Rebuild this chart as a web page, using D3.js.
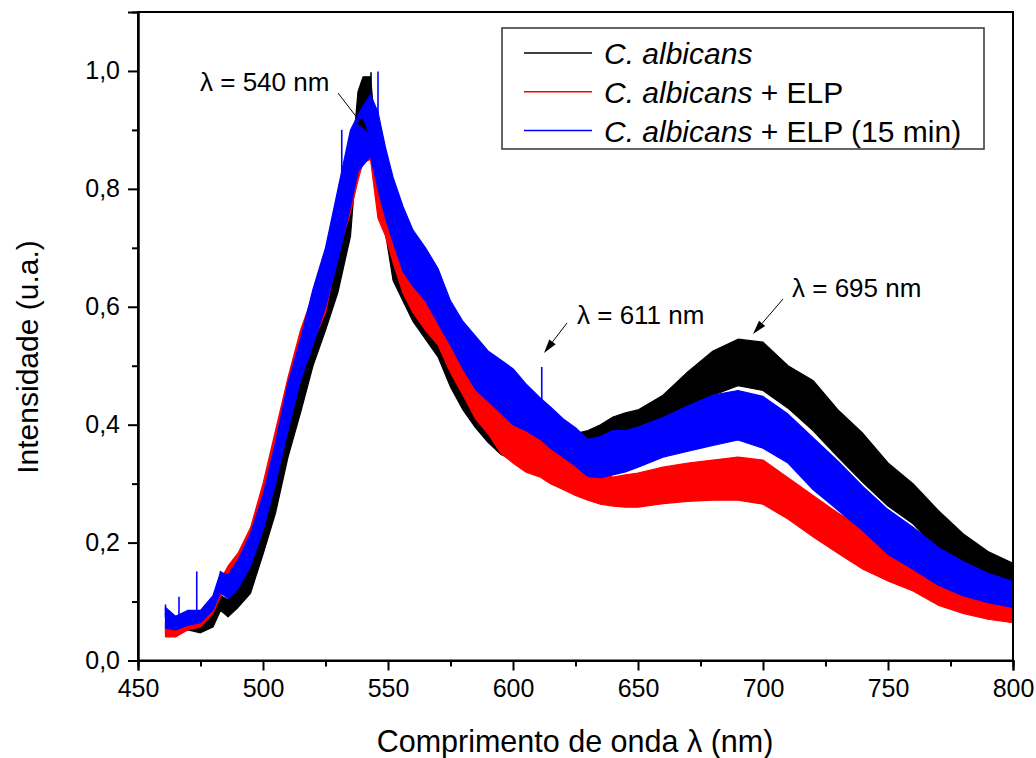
<!DOCTYPE html>
<html>
<head>
<meta charset="utf-8">
<script src="https://cdn.jsdelivr.net/npm/d3@7"></script>
<style>
	body { margin: 0; background: #fff; }
	text { font-family: "Liberation Sans", Arial, sans-serif; fill: #000; }
</style>
</head>
<body>
<script>

var wl = [461, 465, 470, 475, 480, 483, 486, 490, 495, 500,
	505, 510, 515, 520, 525, 530, 535, 538, 540, 543,
	546, 549, 552, 556, 560, 565, 570, 575, 580, 585,
	590, 595, 600, 605, 611, 615, 620, 625, 630, 635,
	640, 645, 650, 660, 670, 680, 690, 700, 710, 720,
	730, 740, 750, 760, 770, 780, 790, 800];

// C. albicans (upper / lower edge of the noise band)
var blackHi = [0.060, 0.060, 0.064, 0.064, 0.080, 0.110, 0.103, 0.130, 0.160, 0.230,
	0.310, 0.410, 0.500, 0.580, 0.650, 0.720, 0.820, 0.965, 0.990, 0.990,
	0.850, 0.770, 0.720, 0.668, 0.640, 0.615, 0.600, 0.544, 0.500, 0.475,
	0.455, 0.420, 0.410, 0.400, 0.390, 0.385, 0.385, 0.385, 0.390, 0.400,
	0.413, 0.420, 0.425, 0.450, 0.490, 0.525, 0.545, 0.540, 0.500, 0.475,
	0.425, 0.385, 0.335, 0.300, 0.255, 0.215, 0.185, 0.165];
var blackLo = [0.045, 0.045, 0.052, 0.047, 0.057, 0.085, 0.074, 0.090, 0.114, 0.180,
	0.250, 0.345, 0.420, 0.500, 0.560, 0.625, 0.720, 0.880, 0.900, 0.930,
	0.770, 0.725, 0.645, 0.610, 0.575, 0.545, 0.515, 0.464, 0.425, 0.395,
	0.370, 0.350, 0.340, 0.330, 0.320, 0.320, 0.320, 0.325, 0.330, 0.350,
	0.374, 0.380, 0.386, 0.405, 0.425, 0.450, 0.466, 0.458, 0.428, 0.390,
	0.345, 0.302, 0.262, 0.232, 0.187, 0.152, 0.127, 0.116];

// C. albicans + ELP
var redHi = [0.065, 0.060, 0.070, 0.080, 0.108, 0.137, 0.160, 0.182, 0.225, 0.300,
	0.390, 0.480, 0.560, 0.620, 0.680, 0.780, 0.830, 0.840, 0.870, 0.880,
	0.840, 0.800, 0.740, 0.690, 0.665, 0.640, 0.620, 0.555, 0.525, 0.490,
	0.470, 0.440, 0.420, 0.405, 0.396, 0.370, 0.355, 0.340, 0.328, 0.318,
	0.311, 0.315, 0.318, 0.328, 0.335, 0.340, 0.345, 0.340, 0.310, 0.280,
	0.250, 0.225, 0.200, 0.178, 0.150, 0.127, 0.118, 0.110];
var redLo = [0.040, 0.040, 0.052, 0.057, 0.080, 0.108, 0.125, 0.145, 0.170, 0.245,
	0.320, 0.400, 0.480, 0.540, 0.590, 0.690, 0.760, 0.815, 0.845, 0.850,
	0.750, 0.720, 0.675, 0.623, 0.590, 0.560, 0.535, 0.488, 0.450, 0.410,
	0.385, 0.352, 0.335, 0.320, 0.311, 0.300, 0.290, 0.280, 0.272, 0.265,
	0.262, 0.260, 0.260, 0.266, 0.270, 0.272, 0.272, 0.265, 0.240, 0.210,
	0.182, 0.155, 0.135, 0.118, 0.094, 0.080, 0.070, 0.064];

// C. albicans + ELP (15 min)
var blueHi = [0.090, 0.075, 0.085, 0.085, 0.110, 0.150, 0.145, 0.170, 0.215, 0.280,
	0.370, 0.470, 0.545, 0.630, 0.700, 0.800, 0.900, 0.925, 0.940, 0.960,
	0.930, 0.870, 0.820, 0.770, 0.730, 0.700, 0.665, 0.610, 0.575, 0.550,
	0.525, 0.510, 0.495, 0.470, 0.445, 0.430, 0.410, 0.395, 0.375, 0.380,
	0.390, 0.390, 0.396, 0.412, 0.432, 0.450, 0.458, 0.448, 0.418, 0.378,
	0.338, 0.295, 0.256, 0.226, 0.192, 0.168, 0.148, 0.134];
var blueLo = [0.055, 0.052, 0.060, 0.064, 0.086, 0.115, 0.105, 0.122, 0.160, 0.220,
	0.300, 0.390, 0.475, 0.535, 0.600, 0.680, 0.770, 0.830, 0.840, 0.855,
	0.800, 0.750, 0.710, 0.660, 0.635, 0.610, 0.572, 0.535, 0.495, 0.460,
	0.440, 0.420, 0.400, 0.390, 0.375, 0.360, 0.345, 0.330, 0.312, 0.310,
	0.315, 0.320, 0.328, 0.345, 0.355, 0.365, 0.374, 0.360, 0.335, 0.290,
	0.255, 0.220, 0.180, 0.155, 0.128, 0.110, 0.098, 0.090];

// single sharp spikes poking out of the bands [nm, value]
var blackSpikes = [[541, 0.99], [543.2, 0.998]];
var redSpikes = [[544.5, 0.89], [611.5, 0.408]];
var blueSpikes = [[461, 0.095], [466.4, 0.108], [473.5, 0.151], [483, 0.152], [531.5, 0.9], [546, 0.999], [611.5, 0.498]];

var seriesNames = ['C. albicans', 'C. albicans + ELP', 'C. albicans + ELP (15 min)'];
var seriesColors = ['#000000', '#ff0000', '#0000ff'];

var xTicks = [450, 500, 550, 600, 650, 700, 750, 800];
var xMinor = [475, 525, 575, 625, 675, 725, 775];
var yTicks = [0, 0.2, 0.4, 0.6, 0.8, 1.0];
var yMinor = [0.1, 0.3, 0.5, 0.7, 0.9];

// peak annotations: text position and arrow (tail -> head), in pixels
var notes = [
	{ label: 'λ = 540 nm', tx: 200, ty: 91, x1: 338, y1: 93, x2: 368, y2: 132 },
	{ label: 'λ = 611 nm', tx: 577, ty: 324, x1: 567, y1: 323, x2: 544, y2: 353 },
	{ label: 'λ = 695 nm', tx: 792, ty: 297, x1: 783, y1: 299, x2: 753, y2: 334 }
];

(function(){

	var width = 1036, height = 758;
	var left = 138, right = 1013, top = 12, bottom = 660.5;

	var svg = d3.select('body').append('svg')
		.attr('width', width)
		.attr('height', height);

	var x = d3.scaleLinear().domain([450, 800]).range([left, right]);
	var y = d3.scaleLinear().domain([0, 1.1]).range([bottom, top]);

	var plot = svg.append('g');

	// one filled band per spectrum, drawn black -> red -> blue like the original
	var bands = [[blackHi, blackLo, blackSpikes], [redHi, redLo, redSpikes], [blueHi, blueLo, blueSpikes]];

	bands.forEach(function(b, k){
		var pts = wl.map(function(w, i){ return { w: w, hi: b[0][i], lo: b[1][i] }; });
		var area = d3.area()
			.x(function(d){ return x(d.w); })
			.y0(function(d){ return y(d.lo); })
			.y1(function(d){ return y(d.hi); });

		plot.append('path')
			.attr('d', area(pts))
			.attr('fill', seriesColors[k])
			.attr('stroke', seriesColors[k])
			.attr('stroke-width', 1.2)
			.attr('stroke-linejoin', 'round');

		// spikes: vertical hairlines from inside the band up to the read value
		b[2].forEach(function(s){
			var i = d3.minIndex(wl, function(w){ return Math.abs(w - s[0]); });
			plot.append('line')
				.attr('x1', x(s[0])).attr('x2', x(s[0]))
				.attr('y1', y((b[0][i] + b[1][i]) / 2)).attr('y2', y(s[1]))
				.attr('stroke', seriesColors[k])
				.attr('stroke-width', 1.6);
		});
	});

	// frame
	svg.append('rect')
		.attr('x', left).attr('y', top)
		.attr('width', right - left).attr('height', bottom - top)
		.attr('fill', 'none')
		.attr('stroke', '#000')
		.attr('stroke-width', 2);

	// axes with outward ticks
	var fmt = function(v){ return d3.format('.1f')(v).replace('.', ','); };

	svg.append('g')
		.attr('transform', 'translate(0,' + bottom + ')')
		.call(d3.axisBottom(x).tickValues(xTicks).tickSize(10).tickPadding(9).tickFormat(d3.format('d')));
	svg.append('g')
		.attr('transform', 'translate(0,' + bottom + ')')
		.call(d3.axisBottom(x).tickValues(xMinor).tickSize(6).tickFormat(''));

	svg.append('g')
		.attr('transform', 'translate(' + left + ',0)')
		.call(d3.axisLeft(y).tickValues(yTicks).tickSize(10).tickPadding(8).tickFormat(fmt));
	svg.append('g')
		.attr('transform', 'translate(' + left + ',0)')
		.call(d3.axisLeft(y).tickValues(yMinor).tickSize(6).tickFormat(''));

	svg.selectAll('.domain').attr('stroke', '#000').attr('stroke-width', 2);
	svg.selectAll('.tick line').attr('stroke', '#000').attr('stroke-width', 2);
	svg.selectAll('.tick text')
		.style('font-family', '"Liberation Sans", Arial, sans-serif')
		.style('font-size', '25px')
		.attr('fill', '#000');

	// axis titles
	svg.append('text')
		.attr('x', 575)
		.attr('y', 752)
		.attr('text-anchor', 'middle')
		.style('font-size', '30.5px')
		.text('Comprimento de onda λ (nm)');

	svg.append('text')
		.attr('transform', 'translate(38,357) rotate(-90)')
		.attr('text-anchor', 'middle')
		.style('font-size', '30px')
		.text('Intensidade (u.a.)');

	// annotations with small filled arrow heads
	notes.forEach(function(n){
		svg.append('text')
			.attr('x', n.tx).attr('y', n.ty)
			.style('font-size', '26px')
			.text(n.label);

		var ang = Math.atan2(n.y2 - n.y1, n.x2 - n.x1);
		var len = 14, wid = 4;
		var bx = n.x2 - len * Math.cos(ang), by = n.y2 - len * Math.sin(ang);
		svg.append('line')
			.attr('x1', n.x1).attr('y1', n.y1)
			.attr('x2', bx).attr('y2', by)
			.attr('stroke', '#000').attr('stroke-width', 1);
		svg.append('path')
			.attr('d', 'M' + n.x2 + ',' + n.y2
				+ ' L' + (bx + wid * Math.sin(ang)) + ',' + (by - wid * Math.cos(ang))
				+ ' L' + (bx - wid * Math.sin(ang)) + ',' + (by + wid * Math.cos(ang)) + ' Z')
			.attr('fill', '#000');
	});

	// legend
	var lg = svg.append('g');
	lg.append('rect')
		.attr('x', 502).attr('y', 28)
		.attr('width', 482).attr('height', 121)
		.attr('fill', '#fff')
		.attr('stroke', '#333')
		.attr('stroke-width', 1.5);

	seriesNames.forEach(function(name, k){
		var ly = 53 + k * 38.8;
		lg.append('line')
			.attr('x1', 524).attr('x2', 592)
			.attr('y1', ly).attr('y2', ly)
			.attr('stroke', seriesColors[k])
			.attr('stroke-width', 1.5);

		var t = lg.append('text')
			.attr('x', 604).attr('y', ly + 11)
			.style('font-size', '30px');
		t.append('tspan').style('font-style', 'italic').text('C. albicans');
		if (name.length > 11) t.append('tspan').text(name.slice(11));
	});

})();
</script>
</body>
</html>
